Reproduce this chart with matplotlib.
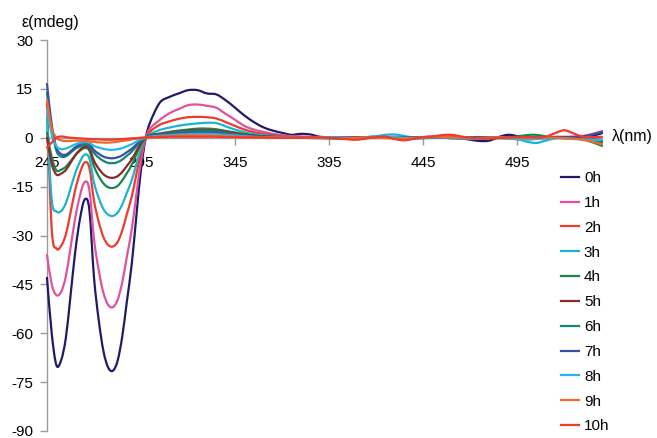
import numpy as np
import matplotlib
matplotlib.use("Agg")
import matplotlib.pyplot as plt
from matplotlib.lines import Line2D
from matplotlib.path import Path
from matplotlib.patches import PathPatch

plt.rcParams["font.family"] = ["Liberation Sans", "DejaVu Sans"]
plt.rcParams["axes.unicode_minus"] = False

# Wavelength grid (nm): 2.5 nm steps across the UV bands, 5 nm beyond
wavelength_uv = [245, 247.5, 250, 252.5, 255, 257.5, 260, 262.5, 265, 267.5,
                 270, 272.5, 275, 277.5, 280, 282.5, 285, 287.5, 290, 292.5,
                 295, 297.5, 300]
wavelength_mid = [305, 310, 315, 320, 325, 330, 335, 340, 345, 350, 355, 360,
                  365, 370]
wavelength_far = [375, 380, 385, 390, 395, 400, 405, 410, 415, 420, 425, 430,
                  435, 440, 445, 450, 455, 460, 465, 470, 475, 480, 485, 490,
                  495, 500, 505, 510, 515, 520, 525, 530, 535, 540]

labels = ["0h", "1h", "2h", "3h", "4h", "5h", "6h", "7h", "8h", "9h", "10h"]
colors = ["#1f1b68", "#e0519f", "#ee3b2c", "#1bb4d0", "#17894b", "#8c2a2a",
          "#13857a", "#3a4fa0", "#27b6e8", "#f06a2c", "#f03a2a"]

# CD signal (mdeg), 245-300 nm
cd_uv = {
    "0h": [-43, -60, -69.8, -68.3, -61.5, -48.5, -35, -25, -19, -22, -43, -56,
           -65.5, -70.5, -71.5, -68.5, -61, -50, -39, -24, -9.5, 0, 5],
    "1h": [-36, -45, -48.3, -47.3, -42.6, -33.8, -24.6, -17.8, -13.6, -15.9,
           -31.2, -40.7, -47.6, -51.3, -52, -49.8, -44.4, -36.3, -28.3, -17.5,
           -6.9, 0, 3],
    "2h": [10.5, -28, -34, -33.2, -29.7, -23, -16, -10.8, -7.6, -9.2, -19.4,
           -25.8, -30.5, -32.9, -33.4, -32, -28.5, -23.3, -18.2, -11.2, -4.4,
           0, 2],
    "3h": [6, -19, -22.6, -22.5, -20.1, -15.6, -10.9, -7.4, -5.2, -6.3, -13.8,
           -18.5, -21.9, -23.6, -24, -23, -20.5, -16.8, -13.1, -8.1, -3.2, 0,
           1.2],
    "4h": [1.5, -6, -10, -9.8, -8.9, -7.2, -5.4, -4, -3.2, -3.9, -8.8, -11.8,
           -14, -15.2, -15.4, -14.8, -13.1, -10.8, -8.4, -5.2, -2, 0, 0.8],
    "5h": [0, -8, -11.3, -11, -9.9, -7.7, -5.4, -3.7, -2.7, -3.3, -7.1, -9.5,
           -11.2, -12.1, -12.3, -11.8, -10.5, -8.6, -6.7, -4.1, -1.6, 0, 0.8],
    "6h": [13.8, 3, -4, -5.8, -5.7, -4.6, -3.4, -2.7, -2.2, -2.5, -4.7, -6.1,
           -7.1, -7.7, -7.8, -7.5, -6.7, -5.5, -4.3, -2.6, -1, 0, 0.6],
    "7h": [16.5, 4, -3, -5, -5.2, -4.2, -2.9, -2.1, -1.6, -1.9, -3.8, -4.9,
           -5.8, -6.2, -6.3, -6, -5.4, -4.4, -3.4, -2.1, -0.8, 0, 0.5],
    "8h": [9, 1, -2.6, -3.5, -3.3, -2.7, -2, -1.6, -1.4, -1.6, -2.5, -3.0,
           -3.4, -3.65, -3.7, -3.5, -3.2, -2.6, -2, -1.2, -0.5, 0, 0.4],
    "9h": [11.6, 3, 0, -0.8, -1, -1, -0.9, -0.9, -1, -1.1, -1.3, -1.4, -1.5,
           -1.5, -1.4, -1.2, -1, -0.8, -0.5, -0.3, -0.1, 0.1, 0.2],
    "10h": [-3, -1.5, 0, 0.4, 0.2, 0, -0.1, -0.2, -0.3, -0.4, -0.5, -0.5, -0.6,
            -0.6, -0.6, -0.5, -0.4, -0.3, -0.2, -0.1, 0, 0.1, 0.2],
}

# CD signal (mdeg), 305-370 nm
cd_mid = {
    "0h": [10.8, 12.5, 13.6, 14.6, 14.6, 13.6, 13.3, 11.5, 9.2, 6.8, 4.8, 3.2, 2.2, 1.5],
    "1h": [5.5, 7.5, 8.8, 10.0, 10.2, 9.8, 9.2, 7.3, 5.5, 3.6, 2.5, 1.8, 1.2, 0.8],
    "2h": [4.0, 5.0, 5.8, 6.3, 6.4, 6.3, 5.9, 4.8, 3.6, 2.5, 1.7, 1.2, 0.8, 0.5],
    "3h": [2.4, 3.1, 3.7, 4.1, 4.4, 4.6, 4.5, 3.5, 2.5, 1.7, 1.1, 0.8, 0.5, 0.3],
    "4h": [1.3, 1.8, 2.2, 2.5, 2.8, 2.8, 2.6, 2.1, 1.6, 1.1, 0.7, 0.5, 0.3, 0.2],
    "5h": [1.2, 1.6, 1.9, 2.2, 2.3, 2.3, 2.2, 1.8, 1.4, 1.0, 0.7, 0.4, 0.3, 0.2],
    "6h": [1.0, 1.4, 1.7, 1.9, 2.0, 2.0, 1.9, 1.5, 1.1, 0.8, 0.5, 0.3, 0.2, 0.1],
    "7h": [0.8, 1.1, 1.3, 1.5, 1.6, 1.6, 1.5, 1.2, 0.9, 0.6, 0.4, 0.3, 0.2, 0.1],
    "8h": [0.6, 0.8, 1.0, 1.1, 1.2, 1.2, 1.1, 0.9, 0.7, 0.5, 0.3, 0.2, 0.1, 0.1],
    "9h": [0.4, 0.5, 0.6, 0.7, 0.7, 0.7, 0.6, 0.5, 0.4, 0.3, 0.2, 0.1, 0.1, 0.0],
    "10h": [0.2, 0.3, 0.3, 0.3, 0.3, 0.3, 0.3, 0.2, 0.2, 0.1, 0.1, 0.1, 0.0, 0.0],
}

# CD signal (mdeg), 375-540 nm
cd_far = {
    "0h": [0.9, 1.2, 1.0, 0.3, 0.1, -0.2, -0.3, 0.0, 0.2, 0.3, 0.2, 0.0, -0.2,
           0.0, 0.2, 0.3, 0.1, -0.1, -0.2, -0.6, -1.0, -0.9, 0.2, 0.9, 0.5,
           -0.1, -0.2, 0.0, 0.1, 0.0, -0.1, 0.1, 0.6, 1.4],
    "1h": [0.5, 0.4, 0.3, 0.2, 0.1, 0.0, 0.1, 0.2, 0.1, 0.0, 0.2, 0.3, 0.1,
           -0.1, 0.0, 0.2, 0.3, 0.2, 0.0, -0.2, -0.3, -0.1, 0.1, 0.2, 0.1,
           0.0, 0.1, 0.2, 0.3, 0.3, 0.4, 0.6, 1.2, 2.0],
    "2h": [0.3, 0.2, 0.1, 0.1, 0.0, -0.1, -0.2, 0.0, 0.1, 0.1, 0.0, -0.1, -0.2,
           0.0, 0.1, 0.2, 0.1, 0.0, -0.1, -0.1, 0.0, 0.1, 0.0, -0.1, -0.2,
           -0.3, -0.2, 0.0, 0.2, 0.2, 0.1, 0.0, -0.3, -0.8],
    "3h": [0.2, 0.1, 0.1, 0.0, 0.1, 0.2, 0.1, 0.0, 0.2, 0.5, 0.9, 1.0, 0.5,
           0.1, 0.0, 0.1, 0.2, 0.1, -0.1, -0.3, -0.2, 0.0, 0.1, 0.0, -0.4,
           -1.2, -1.6, -0.9, -0.2, 0.0, -0.2, -0.4, -0.7, -1.0],
    "4h": [0.1, 0.1, 0.0, -0.1, -0.2, -0.2, 0.0, 0.1, 0.0, -0.1, 0.0, 0.1, 0.0,
           -0.2, -0.1, 0.0, 0.1, 0.0, -0.1, 0.0, 0.1, 0.0, -0.1, 0.0, 0.4,
           0.8, 0.9, 0.4, 0.0, -0.1, -0.2, -0.6, -1.4, -2.5],
    "5h": [0.1, 0.1, 0.0, 0.0, -0.1, -0.1, 0.0, 0.1, 0.1, 0.0, -0.1, 0.0, 0.1,
           0.0, -0.1, 0.0, 0.1, 0.0, -0.1, -0.1, 0.0, 0.1, 0.0, -0.1, 0.0,
           0.1, 0.0, -0.1, 0.0, 0.1, 0.0, -0.2, -0.5, -1.0],
    "6h": [0.1, 0.0, 0.0, 0.1, 0.0, -0.1, -0.1, 0.0, 0.1, 0.1, 0.0, -0.1, -0.1,
           0.0, 0.1, 0.1, 0.0, -0.1, 0.0, 0.1, 0.1, 0.0, -0.1, -0.1, 0.0,
           0.1, 0.2, 0.1, 0.0, -0.1, -0.1, 0.0, -0.6, -1.6],
    "7h": [0.1, 0.0, -0.1, -0.1, 0.0, 0.1, 0.1, 0.0, -0.1, 0.0, 0.1, 0.1, 0.0,
           -0.1, 0.0, 0.1, 0.0, -0.1, -0.1, 0.0, 0.1, 0.1, 0.0, -0.1, 0.0,
           0.1, 0.1, 0.0, 0.0, 0.1, 0.2, 0.4, 1.0, 1.8],
    "8h": [0.1, 0.0, 0.0, 0.1, 0.2, 0.1, 0.0, -0.1, 0.0, 0.2, 0.3, 0.2, 0.0,
           -0.1, 0.0, 0.1, 0.1, 0.0, -0.2, -0.2, -0.1, 0.0, 0.0, -0.2, -0.5,
           -0.6, -0.4, -0.2, -0.1, -0.2, -0.4, -0.5, -0.6, -0.7],
    "9h": [0.0, 0.0, 0.1, 0.0, -0.1, -0.2, -0.1, 0.0, 0.1, 0.0, -0.1, -0.2, -0.3,
           -0.1, 0.1, 0.2, 0.2, 0.1, 0.0, -0.1, -0.1, 0.0, 0.1, 0.1, 0.0,
           -0.1, 0.0, 0.1, 0.0, -0.1, -0.3, -0.6, -1.2, -2.0],
    "10h": [0.0, 0.0, 0.1, 0.1, 0.0, -0.2, -0.5, -0.6, -0.2, 0.2, 0.3, -0.4, -0.8,
            -0.3, 0.2, 0.4, 0.8, 0.9, 0.4, 0.0, -0.2, -0.3, -0.1, 0.1, 0.2,
            0.2, 0.1, 0.3, 1.4, 2.3, 1.3, 0.3, 0.2, 0.3],
}

y_ticks = [-90, -75, -60, -45, -30, -15, 0, 15, 30]
x_ticks = [245, 295, 345, 395, 445, 495]


def smoothed_path(xs, ys):
    """Smoothed-line path (cubic Bezier through every sample point)."""
    pts = np.column_stack([xs, ys]).astype(float)
    n = len(pts)
    verts = [pts[0]]
    codes = [Path.MOVETO]
    for i in range(n - 1):
        p0 = pts[i - 1] if i > 0 else pts[i]
        p1 = pts[i]
        p2 = pts[i + 1]
        p3 = pts[i + 2] if i + 2 < n else pts[i + 1]
        c1 = p1 + (p2 - p0) / 6.0
        c2 = p2 - (p3 - p1) / 6.0
        verts += [c1, c2, p2]
        codes += [Path.CURVE4] * 3
    return Path(np.array(verts), codes)


W, H = 657, 438
fig = plt.figure(figsize=(W / 100, H / 100), dpi=100)
ax = fig.add_axes([47 / W, 1 - 431 / H, 555 / W, 391 / H])

wl = wavelength_uv + wavelength_mid + wavelength_far
for k, (name, col) in enumerate(zip(labels, colors)):
    vals = cd_uv[name] + cd_mid[name] + cd_far[name]
    patch = PathPatch(smoothed_path(wl, vals), facecolor="none", edgecolor=col,
                      lw=1.6, joinstyle="round", capstyle="round",
                      zorder=2 + k * 0.01, clip_on=False)
    ax.add_patch(patch)

ax.set_xlim(245, 540)
ax.set_ylim(-90, 30)

axis_grey = "#9a9a9a"
for side in ("top", "right"):
    ax.spines[side].set_visible(False)
ax.spines["bottom"].set_position(("data", 0))
for side in ("left", "bottom"):
    ax.spines[side].set_color(axis_grey)
    ax.spines[side].set_linewidth(1.0)
    ax.spines[side].set_zorder(0.5)

ax.set_yticks(y_ticks)
ax.set_yticklabels([str(v) for v in y_ticks])
ax.set_xticks(x_ticks)
ax.set_xticklabels([str(v) for v in x_ticks])
ax.tick_params(axis="y", direction="out", length=5, width=1.0,
               color=axis_grey, labelsize=11, pad=5)
ax.tick_params(axis="x", direction="out", length=5, width=1.0,
               color=axis_grey, labelsize=11, pad=8)
ax.patch.set_visible(False)

fig.text(22 / W, 1 - 22 / H, "ε(mdeg)", fontsize=11.5, ha="left", va="center")
fig.text(612 / W, 1 - 136 / H, "λ(nm)", fontsize=11.5, ha="left", va="center")

handles = [Line2D([], [], color=c, lw=1.6) for c in colors]
ax.legend(handles, labels, loc="upper left",
          bbox_to_anchor=(561 / W, 1 - 171 / H), bbox_transform=fig.transFigure,
          frameon=False, fontsize=11, handlelength=1.2, handletextpad=0.3,
          labelspacing=0.71, borderpad=0, borderaxespad=0)

fig.savefig("out.png", dpi=100)
